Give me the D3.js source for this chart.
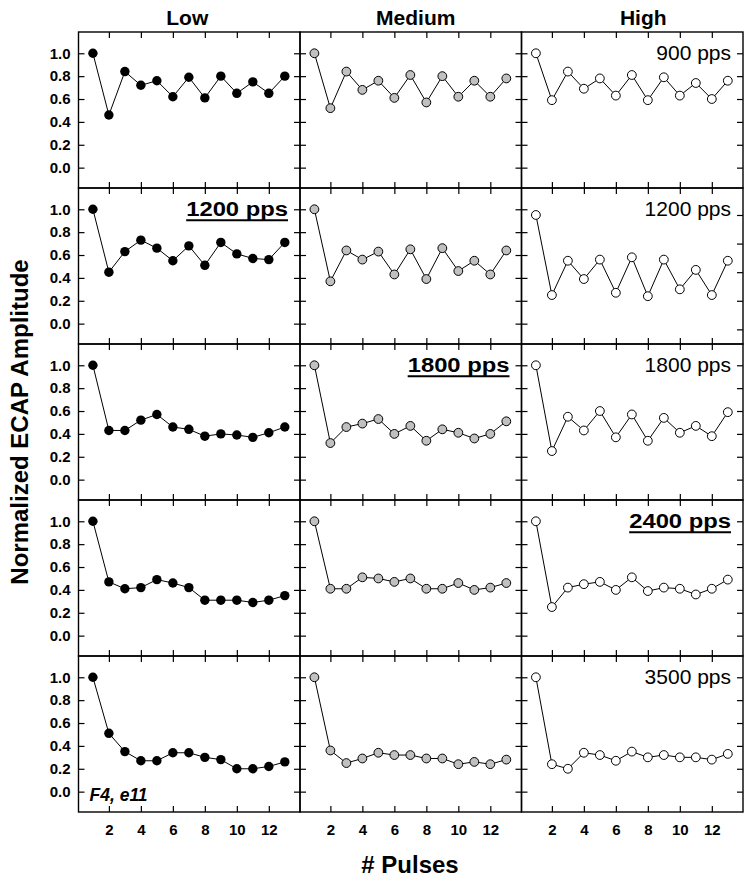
<!DOCTYPE html>
<html>
<head>
<meta charset="utf-8">
<script src="https://cdn.jsdelivr.net/npm/d3@7"></script>
<style>
    body { margin: 0; background: #fff; }
    svg { font-family: "Liberation Sans", Arial, Helvetica, sans-serif; }
    .tick line { stroke: #000; stroke-width: 1.2; }
</style>
</head>
<body>
<svg width="752" height="883"></svg>
<script>
// --- data ---
const pulses = d3.range(1, 14);
const levels = ['Low', 'Medium', 'High'];
const rates = ['900 pps', '1200 pps', '1800 pps', '2400 pps', '3500 pps'];

const low = [
    [1.00, 0.46, 0.84, 0.72, 0.76, 0.62, 0.79, 0.61, 0.80, 0.65, 0.75, 0.65, 0.80],
    [1.00, 0.45, 0.63, 0.73, 0.66, 0.55, 0.68, 0.51, 0.71, 0.61, 0.57, 0.56, 0.71],
    [1.00, 0.43, 0.43, 0.52, 0.57, 0.46, 0.44, 0.38, 0.40, 0.39, 0.37, 0.41, 0.46],
    [1.00, 0.47, 0.41, 0.42, 0.49, 0.46, 0.42, 0.31, 0.31, 0.31, 0.29, 0.31, 0.35],
    [1.00, 0.51, 0.35, 0.27, 0.27, 0.34, 0.34, 0.30, 0.28, 0.20, 0.20, 0.22, 0.26]
];
const medium = [
    [1.00, 0.52, 0.84, 0.68, 0.76, 0.61, 0.81, 0.57, 0.80, 0.62, 0.76, 0.62, 0.78],
    [1.00, 0.37, 0.64, 0.56, 0.63, 0.43, 0.65, 0.39, 0.66, 0.46, 0.55, 0.43, 0.64],
    [1.00, 0.32, 0.46, 0.49, 0.53, 0.40, 0.47, 0.34, 0.44, 0.41, 0.36, 0.40, 0.51],
    [1.00, 0.41, 0.41, 0.51, 0.50, 0.47, 0.50, 0.41, 0.41, 0.46, 0.40, 0.42, 0.46],
    [1.00, 0.36, 0.25, 0.29, 0.34, 0.32, 0.32, 0.29, 0.29, 0.24, 0.26, 0.24, 0.28]
];
const high = [
    [1.00, 0.59, 0.84, 0.69, 0.78, 0.63, 0.81, 0.59, 0.79, 0.63, 0.74, 0.60, 0.76],
    [0.95, 0.25, 0.55, 0.39, 0.56, 0.27, 0.58, 0.24, 0.56, 0.30, 0.47, 0.25, 0.55],
    [1.00, 0.25, 0.55, 0.43, 0.60, 0.37, 0.57, 0.34, 0.54, 0.41, 0.47, 0.38, 0.59],
    [1.00, 0.25, 0.42, 0.45, 0.47, 0.40, 0.51, 0.39, 0.42, 0.41, 0.36, 0.41, 0.49],
    [1.00, 0.24, 0.20, 0.34, 0.32, 0.27, 0.35, 0.30, 0.32, 0.30, 0.30, 0.28, 0.33]
];
const series = [low, medium, high];

const yTicks = [0, 0.2, 0.4, 0.6, 0.8, 1.0];
const xTicks = [2, 4, 6, 8, 10, 12];
// the High / 1200 pps panel has its right-hand ticks on another spacing
const oddRightTicks = [0.95, 0.70, 0.45, 0.20, -0.05];
// column holding the bold, underlined rate label for each row (null = none)
const boldLabelCol = [null, 0, 1, 2, null];
const fills = ['#000', '#c0c0c0', '#fff'];

// --- layout ---
const svg = d3.select('svg'),
    gridLeft = 78.5, gridTop = 32,
    colW = 221.5, rowH = 156,
    titleShift = [-2, 5, 11];

const x = d3.scaleLinear().domain([0.1, 13.95]).range([0, colW]);
const y = d3.scaleLinear().domain([-0.178, 1.186]).range([rowH, 0]);

const line = d3.line().x((d, i) => x(pulses[i])).y(d => y(d));

function clean(sel) {
    sel.select('.domain').remove();
}

levels.forEach((lev, c) => {
    svg.append('text')
        .attr('x', gridLeft + colW * (c + 0.5) + titleShift[c])
        .attr('y', 25)
        .attr('text-anchor', 'middle')
        .attr('font-size', 21)
        .attr('font-weight', 'bold')
        .text(lev);
});

rates.forEach((rate, r) => {
    levels.forEach((lev, c) => {
        let g = svg.append('g')
            .attr('transform', `translate(${gridLeft + c * colW},${gridTop + r * rowH})`);

        // inward ticks on all four sides
        g.append('g').call(d3.axisBottom(x).tickValues(xTicks).tickSize(6).tickFormat('')).call(clean);
        g.append('g').attr('transform', `translate(0,${rowH})`)
            .call(d3.axisTop(x).tickValues(xTicks).tickSize(6).tickFormat('')).call(clean);
        g.append('g').call(d3.axisRight(y).tickValues(yTicks).tickSize(6).tickFormat('')).call(clean);
        let rt = (r === 1 && c === 2) ? oddRightTicks : yTicks;
        g.append('g').attr('transform', `translate(${colW},0)`)
            .call(d3.axisLeft(y).tickValues(rt).tickSize(6).tickFormat('')).call(clean);

        if (c === 0) {
            g.append('g')
                .call(d3.axisLeft(y).tickValues(yTicks).tickSize(0).tickPadding(8).tickFormat(d3.format('.1f')))
                .call(clean)
                .selectAll('text').attr('font-size', 15).attr('font-weight', 'bold')
                .attr('font-family', '"Liberation Sans", Arial, sans-serif').attr('fill', '#000');
        }
        if (r === rates.length - 1) {
            g.append('g').attr('transform', `translate(0,${rowH})`)
                .call(d3.axisBottom(x).tickValues(xTicks).tickSize(0).tickPadding(12))
                .call(clean)
                .selectAll('text').attr('font-size', 15).attr('font-weight', 'bold')
                .attr('font-family', '"Liberation Sans", Arial, sans-serif').attr('fill', '#000');
        }

        g.append('rect')
            .attr('width', colW).attr('height', rowH)
            .attr('fill', 'none').attr('stroke', '#000').attr('stroke-width', 1.4);

        let vals = series[c][r];
        g.append('path')
            .attr('d', line(vals))
            .attr('fill', 'none').attr('stroke', '#000').attr('stroke-width', 1);
        g.selectAll('circle').data(vals).enter().append('circle')
            .attr('cx', (d, i) => x(pulses[i]))
            .attr('cy', d => y(d))
            .attr('r', c === 0 ? 4.7 : 4.4)
            .attr('fill', fills[c])
            .attr('stroke', '#000').attr('stroke-width', c === 0 ? 0 : 1);

        let bold = boldLabelCol[r] === c;
        if (bold || (c === 2 && boldLabelCol[r] !== 2)) {
            let tx = colW - 12, ty = y(1.0) + 7, sx = bold ? 1.19 : 1.05;
            let t = g.append('text')
                .attr('transform', `translate(${tx},${ty}) scale(${sx},1)`)
                .attr('text-anchor', 'end')
                .attr('font-size', 20)
                .attr('font-weight', bold ? 'bold' : 'normal')
                .text(rate);
            if (bold) {
                let w = t.node().getComputedTextLength() * sx;
                g.append('line')
                    .attr('x1', tx - w).attr('x2', tx)
                    .attr('y1', ty + 4).attr('y2', ty + 4)
                    .attr('stroke', '#000').attr('stroke-width', 2);
            }
        }

        if (r === rates.length - 1 && c === 0) {
            g.append('text')
                .attr('x', 11).attr('y', 801 - (gridTop + r * rowH))
                .attr('font-size', 17.5)
                .attr('font-weight', 'bold')
                .attr('font-style', 'italic')
                .text('F4, e11');
        }
    });
});

svg.append('text')
    .attr('transform', `translate(28,422) rotate(-90)`)
    .attr('text-anchor', 'middle')
    .attr('font-size', 24)
    .attr('font-weight', 'bold')
    .text('Normalized ECAP Amplitude');

svg.append('text')
    .attr('x', 410).attr('y', 873)
    .attr('text-anchor', 'middle')
    .attr('font-size', 24)
    .attr('font-weight', 'bold')
    .text('# Pulses');
</script>
</body>
</html>
